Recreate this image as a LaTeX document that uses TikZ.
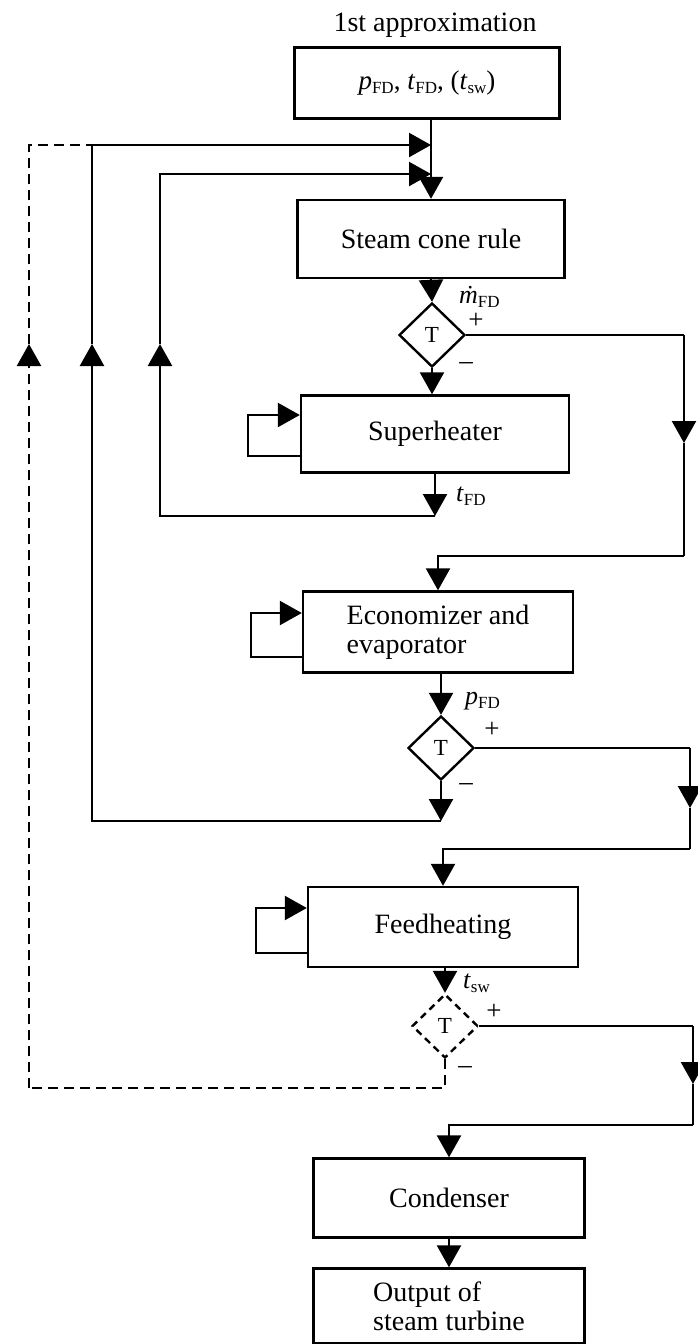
\documentclass[tikz,border=0pt]{standalone}
\usepackage{fontspec}
\setmainfont{Liberation Serif}
\usetikzlibrary{arrows.meta,shapes.geometric}

\newcommand{\lsub}[1]{\raisebox{-4pt}{\fontsize{17}{17}\selectfont #1}}

\begin{document}
\begin{tikzpicture}[x=1pt,y=-1pt,line width=2.4pt,
	font=\fontsize{28}{29}\selectfont,
	block/.style={draw,rectangle,inner sep=0pt,align=left},
	test/.style={draw,diamond,minimum width=66pt,minimum height=64pt,inner sep=0pt,
		font=\fontsize{23}{24}\selectfont},
	tip/.style={-{Triangle[length=22pt,width=24pt]}},
	fbdash/.style={dash pattern=on 10pt off 6pt},
	lbl/.style={anchor=west,inner sep=0pt,font=\fontsize{26}{27}\selectfont},
	sgn/.style={inner sep=0pt,font=\fontsize{27}{28}\selectfont}]
	\useasboundingbox (0,0) rectangle (697,1344);

	% blocks
	\node (approx) at (435,25) {1st approximation};
	\node[block,minimum width=265pt,minimum height=71pt] (init) at (427,83)
		{\fontsize{27}{28}\selectfont\textit{p}\lsub{FD}, \textit{t}\lsub{FD}, (\textit{t}\lsub{sw})};
	\node[block,minimum width=267pt,minimum height=78pt] (cone) at (431,239) {Steam cone rule};
	\node[test] (T1) at (432,335) {T};
	\node[block,minimum width=268pt,minimum height=77pt] (super) at (435,434) {Superheater};
	\node[block,minimum width=270pt,minimum height=81pt] (econ) at (438,632) {Economizer and\\evaporator};
	\node[test] (T2) at (441,748) {T};
	\node[block,minimum width=270pt,minimum height=80pt] (feed) at (443,927) {Feedheating};
	\node[test,dash pattern=on 7pt off 5pt] (T3) at (445,1026) {T};
	\node[block,minimum width=271pt,minimum height=79pt] (cond) at (449,1198) {Condenser};
	\node[block,minimum width=271pt,minimum height=75pt] (out) at (449,1306) {Output of\\steam turbine};

	% labels
	\node[lbl] (mlab) at (458,297) {\textit{\.m}\lsub{FD}};
	\node[lbl] (tlab) at (455,496) {\textit{t}\lsub{FD}};
	\node[lbl] (plab) at (464,701) {\textit{p}\lsub{FD}};
	\node[lbl] (slab) at (462,983) {\textit{t}\lsub{sw}};
	\node[sgn] (p1) at (476,321) {+};
	\node[sgn] (m1) at (466,366) {--};
	\node[sgn] (p2) at (492,730) {+};
	\node[sgn] (m2) at (466,787) {--};
	\node[sgn] (p3) at (494,1012) {+};
	\node[sgn] (m3) at (465,1070) {--};

	% corner points
	\coordinate (j1) at (431,145);
	\coordinate (j2) at (431,174);
	\coordinate (o1) at (441,821);
	\coordinate (o2) at (92,821);
	\coordinate (ou) at (92,344);
	\coordinate (o3) at (92,145);
	\coordinate (i1) at (435,516);
	\coordinate (i2) at (160,516);
	\coordinate (iu) at (160,344);
	\coordinate (i3) at (160,174);
	\coordinate (d1) at (445,1088);
	\coordinate (d2) at (29,1088);
	\coordinate (du) at (29,344);
	\coordinate (d3) at (29,145);
	\coordinate (r1a) at (684,335);
	\coordinate (r1m) at (684,443);
	\coordinate (r1b) at (684,556);
	\coordinate (r2a) at (690,748);
	\coordinate (r2m) at (690,808);
	\coordinate (r2b) at (690,849);
	\coordinate (r3a) at (693,1026);
	\coordinate (r3m) at (693,1084);
	\coordinate (r3b) at (693,1125);

	% main line
	\draw[tip] (cone.north |- init.south) -- (cone.north);
	\draw[tip] (cone.south) -- (T1.north);
	\draw[tip] (T1.south) -- (T1.south |- super.north);
	\draw[tip] (T2.north |- econ.south) -- (T2.north);
	\draw[tip] (T3.north |- feed.south) -- (T3.north);
	\draw[tip] (cond.south) -- (out.north);

	% + branches
	\draw (T1.east) -- (r1a);
	\draw[tip] (r1a) -- (r1m);
	\draw (r1m) -- (r1b);
	\draw[tip] (r1b) -| (econ.north);
	\draw (T2.east) -- (r2a);
	\draw[tip] (r2a) -- (r2m);
	\draw (r2m) -- (r2b);
	\draw[tip] (r2b) -| (feed.north);
	\draw (T3.east) -- (r3a);
	\draw[tip] (r3a) -- (r3m);
	\draw (r3m) -- (r3b);
	\draw[tip] (r3b) -| (cond.north);

	% feedback loops
	\draw[tip] (super.south) -- (i1);
	\draw[tip] (i1) -- (i2) -- (iu);
	\draw[tip] (iu) -- (i3) -- (j2);
	\draw[tip] (T2.south) -- (o1);
	\draw[tip] (o1) -- (o2) -- (ou);
	\draw[tip] (ou) -- (o3) -- (j1);
	\draw[fbdash] (T3.south) -- (d1) -- (d2);
	\draw[tip,fbdash] (d2) -- (du);
	\draw[fbdash] (du) -- (d3) -- (o3);

	% self loops
	\draw[tip] ([yshift=-22pt]super.west) -- ++(-52,0) |- ([yshift=19pt]super.west);
	\draw[tip] ([yshift=-25pt]econ.west) -- ++(-51,0) |- ([yshift=19pt]econ.west);
	\draw[tip] ([yshift=-26pt]feed.west) -- ++(-51,0) |- ([yshift=19pt]feed.west);
\end{tikzpicture}
\end{document}
